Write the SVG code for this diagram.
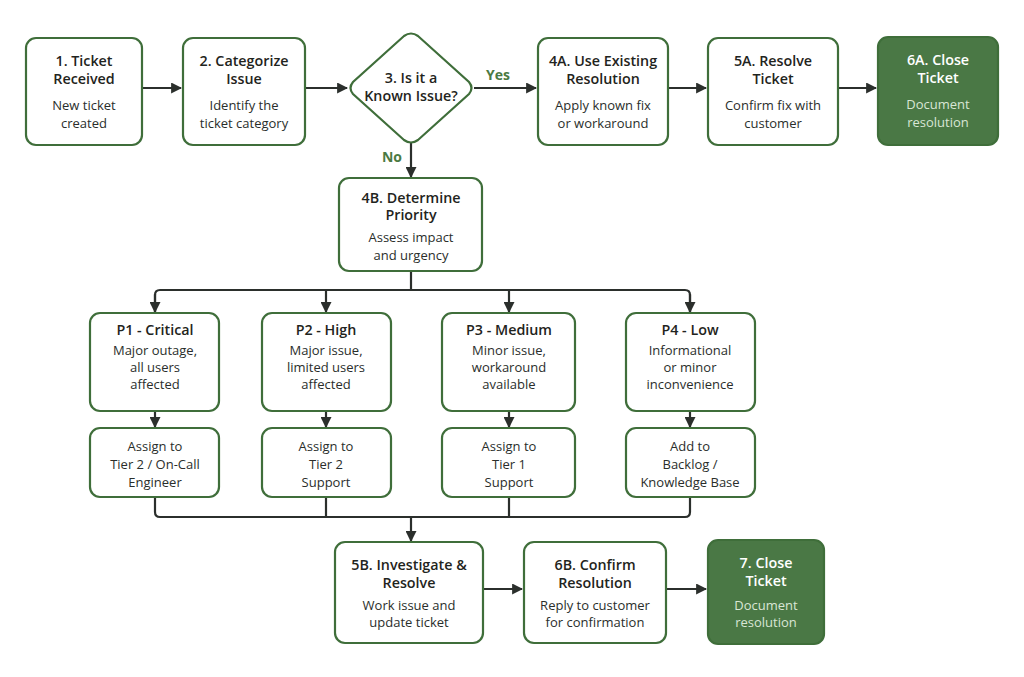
<svg xmlns="http://www.w3.org/2000/svg" width="1024" height="677" viewBox="0 0 1024 677">
<defs>
<marker id="ah" viewBox="0 0 10 10" refX="9" refY="5" markerWidth="11" markerHeight="11" markerUnits="userSpaceOnUse" orient="auto"><path d="M0,0 L10,5 L0,10 z" fill="#2b2f2c"/></marker>
<style>
.box{fill:#ffffff;stroke:#3f6e3a;stroke-width:2.2}
.dark{fill:#4a7845;stroke:#3f6e3a;stroke-width:2.2}
.t{font-family:"Open Sans","Liberation Sans",sans-serif;font-size:14.3px;font-weight:600;fill:#1f2420;text-anchor:middle}
.d{font-family:"Open Sans","Liberation Sans",sans-serif;font-size:13px;fill:#2a2e2b;text-anchor:middle}
.tw{font-family:"Open Sans","Liberation Sans",sans-serif;font-size:14.3px;font-weight:600;fill:#ffffff;text-anchor:middle}
.dw{font-family:"Open Sans","Liberation Sans",sans-serif;font-size:13px;fill:#d9e6d5;text-anchor:middle}
.lbl{font-family:"Open Sans","Liberation Sans",sans-serif;font-size:14px;font-weight:700;fill:#4a7a43;text-anchor:middle}
.c{fill:none;stroke:#2b2f2c;stroke-width:2.2}
</style>
</defs>
<rect width="1024" height="677" fill="#ffffff"/>
<g id="connectors">
<line class="c" x1="142" y1="88" x2="181" y2="88" marker-end="url(#ah)"/>
<line class="c" x1="305" y1="88" x2="347" y2="88" marker-end="url(#ah)"/>
<line class="c" x1="474" y1="88" x2="536" y2="88" marker-end="url(#ah)"/>
<line class="c" x1="668" y1="88" x2="706" y2="88" marker-end="url(#ah)"/>
<line class="c" x1="838" y1="88" x2="876" y2="88" marker-end="url(#ah)"/>
<line class="c" x1="411" y1="143" x2="411" y2="177" marker-end="url(#ah)"/>
<path class="c" d="M411,271 V290"/>
<path class="c" d="M155,312 V295 Q155,290 160,290 H685 Q690,290 690,295 V312"/>
<line class="c" x1="155" y1="294" x2="155" y2="312" marker-end="url(#ah)"/>
<line class="c" x1="326" y1="290" x2="326" y2="312" marker-end="url(#ah)"/>
<line class="c" x1="509" y1="290" x2="509" y2="312" marker-end="url(#ah)"/>
<line class="c" x1="690" y1="294" x2="690" y2="312" marker-end="url(#ah)"/>
<line class="c" x1="155" y1="411" x2="155" y2="427" marker-end="url(#ah)"/>
<line class="c" x1="326" y1="411" x2="326" y2="427" marker-end="url(#ah)"/>
<line class="c" x1="509" y1="411" x2="509" y2="427" marker-end="url(#ah)"/>
<line class="c" x1="690" y1="411" x2="690" y2="427" marker-end="url(#ah)"/>
<path class="c" d="M155,497 V512 Q155,517 160,517 H685 Q690,517 690,512 V497"/>
<path class="c" d="M326,497 V517"/>
<path class="c" d="M509,497 V517"/>
<line class="c" x1="411" y1="517" x2="411" y2="541" marker-end="url(#ah)"/>
<line class="c" x1="483" y1="589" x2="522" y2="589" marker-end="url(#ah)"/>
<line class="c" x1="666" y1="589" x2="706" y2="589" marker-end="url(#ah)"/>
<text class="lbl" x="498" y="80">Yes</text>
<text class="lbl" x="392" y="162">No</text>
</g>
<g id="n1"><rect class="box" x="26" y="38" width="116" height="107" rx="10"/>
<text class="t" x="84" y="66">1. Ticket</text><text class="t" x="84" y="84">Received</text>
<text class="d" x="84" y="110">New ticket</text><text class="d" x="84" y="128">created</text></g>
<g id="n2"><rect class="box" x="183" y="38" width="122" height="107" rx="10"/>
<text class="t" x="244" y="66">2. Categorize</text><text class="t" x="244" y="84">Issue</text>
<text class="d" x="244" y="110">Identify the</text><text class="d" x="244" y="128">ticket category</text></g>
<g id="n3"><path class="box" d="M404,36 Q411,31 418,36 L469,82 Q474,88 469,94 L418,140 Q411,145 404,140 L353,94 Q348,88 353,82 Z"/>
<text class="t" x="411" y="83">3. Is it a</text><text class="t" x="411" y="101">Known Issue?</text></g>
<g id="n4a"><rect class="box" x="538" y="38" width="130" height="107" rx="10"/>
<text class="t" x="603" y="66">4A. Use Existing</text><text class="t" x="603" y="84">Resolution</text>
<text class="d" x="603" y="110">Apply known fix</text><text class="d" x="603" y="128">or workaround</text></g>
<g id="n5a"><rect class="box" x="708" y="38" width="130" height="107" rx="10"/>
<text class="t" x="773" y="66">5A. Resolve</text><text class="t" x="773" y="84">Ticket</text>
<text class="d" x="773" y="110">Confirm fix with</text><text class="d" x="773" y="128">customer</text></g>
<g id="n6a"><rect class="dark" x="878" y="37" width="120" height="108" rx="10"/>
<text class="tw" x="938" y="65">6A. Close</text><text class="tw" x="938" y="83">Ticket</text>
<text class="dw" x="938" y="109">Document</text><text class="dw" x="938" y="127">resolution</text></g>
<g id="n4b"><rect class="box" x="339" y="178" width="143" height="93" rx="10"/>
<text class="t" x="411" y="203">4B. Determine</text><text class="t" x="411" y="220">Priority</text>
<text class="d" x="411" y="242">Assess impact</text><text class="d" x="411" y="260">and urgency</text></g>
<g id="p1"><rect class="box" x="90" y="313" width="129" height="98" rx="10"/>
<text class="t" x="155" y="335">P1 - Critical</text>
<text class="d" x="155" y="355">Major outage,</text><text class="d" x="155" y="372">all users</text><text class="d" x="155" y="389">affected</text></g>
<g id="p2"><rect class="box" x="262" y="313" width="129" height="98" rx="10"/>
<text class="t" x="326" y="335">P2 - High</text>
<text class="d" x="326" y="355">Major issue,</text><text class="d" x="326" y="372">limited users</text><text class="d" x="326" y="389">affected</text></g>
<g id="p3"><rect class="box" x="442" y="313" width="133" height="98" rx="10"/>
<text class="t" x="509" y="335">P3 - Medium</text>
<text class="d" x="509" y="355">Minor issue,</text><text class="d" x="509" y="372">workaround</text><text class="d" x="509" y="389">available</text></g>
<g id="p4"><rect class="box" x="626" y="313" width="129" height="98" rx="10"/>
<text class="t" x="690" y="335">P4 - Low</text>
<text class="d" x="690" y="355">Informational</text><text class="d" x="690" y="372">or minor</text><text class="d" x="690" y="389">inconvenience</text></g>
<g id="a1"><rect class="box" x="90" y="428" width="129" height="69" rx="10"/>
<text class="d" x="155" y="451">Assign to</text><text class="d" x="155" y="469">Tier 2 / On-Call</text><text class="d" x="155" y="487">Engineer</text></g>
<g id="a2"><rect class="box" x="262" y="428" width="129" height="69" rx="10"/>
<text class="d" x="326" y="451">Assign to</text><text class="d" x="326" y="469">Tier 2</text><text class="d" x="326" y="487">Support</text></g>
<g id="a3"><rect class="box" x="442" y="428" width="133" height="69" rx="10"/>
<text class="d" x="509" y="451">Assign to</text><text class="d" x="509" y="469">Tier 1</text><text class="d" x="509" y="487">Support</text></g>
<g id="a4"><rect class="box" x="626" y="428" width="129" height="69" rx="10"/>
<text class="d" x="690" y="451">Add to</text><text class="d" x="690" y="469">Backlog /</text><text class="d" x="690" y="487">Knowledge Base</text></g>
<g id="n5b"><rect class="box" x="335" y="542" width="148" height="101" rx="10"/>
<text class="t" x="409" y="570">5B. Investigate &amp;</text><text class="t" x="409" y="588">Resolve</text>
<text class="d" x="409" y="610">Work issue and</text><text class="d" x="409" y="627">update ticket</text></g>
<g id="n6b"><rect class="box" x="524" y="542" width="142" height="101" rx="10"/>
<text class="t" x="595" y="570">6B. Confirm</text><text class="t" x="595" y="588">Resolution</text>
<text class="d" x="595" y="610">Reply to customer</text><text class="d" x="595" y="627">for confirmation</text></g>
<g id="n7"><rect class="dark" x="708" y="540" width="116" height="104" rx="10"/>
<text class="tw" x="766" y="568">7. Close</text><text class="tw" x="766" y="586">Ticket</text>
<text class="dw" x="766" y="610">Document</text><text class="dw" x="766" y="627">resolution</text></g>
</svg>
